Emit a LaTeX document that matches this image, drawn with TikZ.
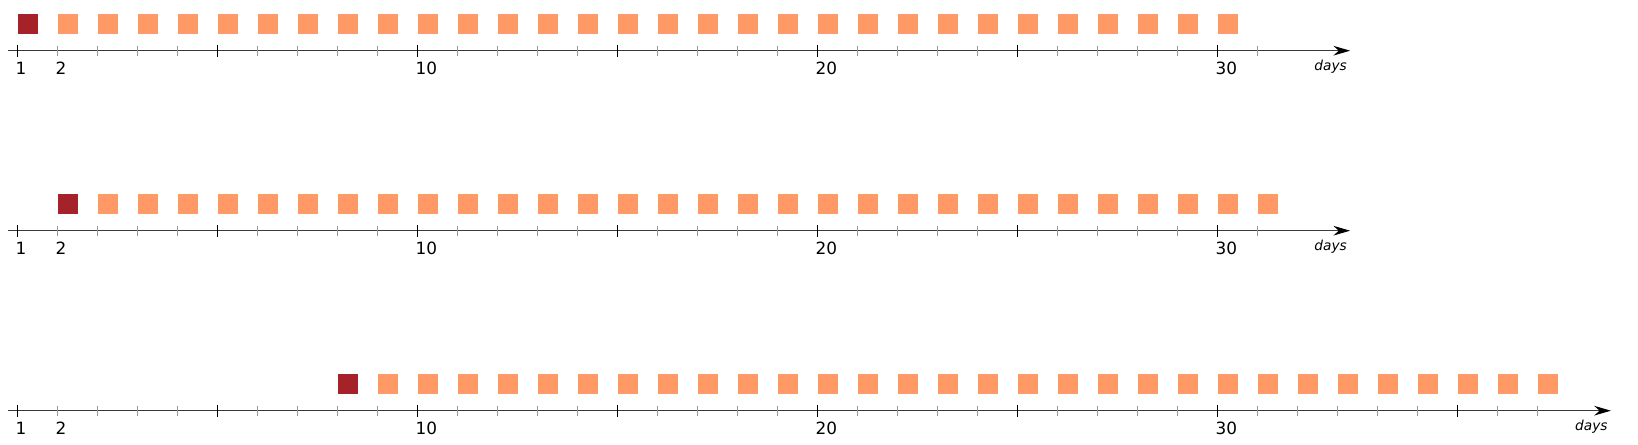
\documentclass[tikz,border=0pt]{standalone}
\usepackage{fontspec}
\setmainfont{DejaVu Sans}
\usetikzlibrary{arrows.meta}
\definecolor{dose}{HTML}{A52229}
\definecolor{rest}{HTML}{FF9966}
\definecolor{axisgrey}{HTML}{3A3A3A}

\begin{document}
\begin{tikzpicture}[x=8mm,y=8mm,>={Stealth[length=9.5pt,width=5.5pt,color=black]},
 first/.style={fill=dose,minimum size=4mm,inner sep=0pt,anchor=south west},
 later/.style={fill=rest,minimum size=4mm,inner sep=0pt,anchor=south west},
 axisline/.style={->,color=axisgrey,line width=0.65pt},
 major/.style={black,line width=0.9pt},
 minor/.style={black!40,line width=0.4pt},
 num/.style={anchor=north west,inner sep=0pt,font=\fontsize{9.6}{11}\selectfont},
 unit/.style={anchor=north east,inner sep=0pt,font=\fontsize{7.8}{9}\selectfont\itshape}]
 \useasboundingbox (-0.4325,-9.8575) rectangle (40.5175,1.2675);
 % one row per schedule: row / first day / last day / axis end / last tick / major ticks
 \foreach \r/\f/\l/\e/\t/\mj in {1/0/30/33.32/31/{0,5,...,30},
   2/1/31/33.32/31/{0,5,...,30},
   3/8/38/39.84/38/{0,5,10,15,20,25,30,36}}{
  \pgfmathsetmacro{\y}{-4.5*(\r-1)}
  \pgfmathtruncatemacro{\g}{\f+1}
  \coordinate (a\r) at (-0.225,\y);
  \coordinate (b\r) at (\e,\y);
  \draw[axisline] (a\r) -- (b\r);
  \foreach \k in {0,...,\t}
   \draw[minor] (\k,\y-0.125) -- (\k,\y+0.125);
  \foreach \k in \mj
   \draw[major] (\k,\y-0.15) -- (\k,\y+0.15);
  \foreach \txt/\k in {1/0,2/1,10/10,20/20,30/30}
   \node[num] (l\r-\k) at (\k-0.05,\y-0.275) {\txt};
  \node[unit,xshift=-0.6mm,yshift=-1.9mm] (u\r) at (b\r) {days};
  \node[first] (s\r-\f) at (\f,\y+0.4175) {};
  \foreach \k in {\g,...,\l}
   \node[later] (s\r-\k) at (\k,\y+0.4175) {};
 }
\end{tikzpicture}
\end{document}
